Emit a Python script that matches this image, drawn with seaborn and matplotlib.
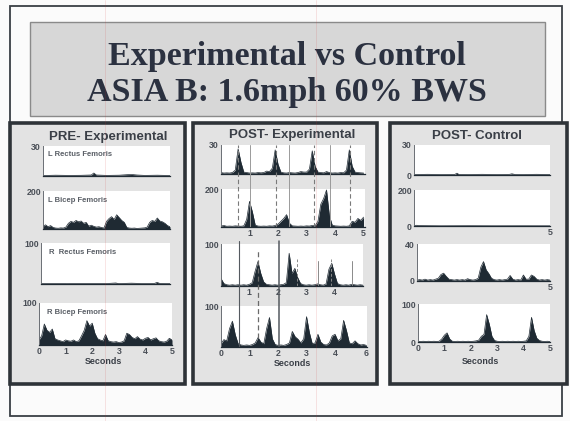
import matplotlib
matplotlib.use("Agg")
import matplotlib.pyplot as plt
from matplotlib.patches import Rectangle
import seaborn as sns

sns.set_style("white")
plt.rcParams['font.family'] = ['Liberation Sans', 'DejaVu Sans']

# ---------------- data ----------------
TITLE1 = "Experimental vs Control"
TITLE2 = "ASIA B: 1.6mph 60% BWS"
PANEL_TITLES = ["PRE- Experimental", "POST- Experimental", "POST- Control"]
MUSCLES = ["L Rectus Femoris", "L Bicep Femoris", "R  Rectus Femoris", "R Bicep Femoris"]

t_grid_5 = [round(i / 10, 1) for i in range(51)]
t_grid_51 = [round(i / 10, 1) for i in range(52)]

# PRE - Experimental
pre_lrf_t = [0, 0.5, 1.0, 1.5, 1.9, 2.0, 2.1, 2.5, 3.0, 3.3, 3.5, 3.7, 4.0, 4.5, 5.0]
pre_lrf_v = [0.5, 0.8, 0.6, 0.7, 1.0, 3.0, 1.0, 0.6, 0.8, 1.3, 1.5, 1.0, 0.6, 0.8, 0.5]
pre_lbf_v = [15, 22, 12, 18, 8, 5, 4, 6, 5, 10,
             30, 40, 35, 45, 38, 42, 30, 35,
             15, 20, 14, 10, 12, 8, 5,
             40, 55, 65, 50, 75, 60, 45, 35,
             8, 5, 4, 5, 3, 4, 5, 6, 10,
             35, 45, 40, 58, 42, 38, 30, 18, 12]
pre_rrf_t = [0, 0.5, 1, 1.5, 2, 2.5, 2.9, 3.0, 3.5, 4.0, 4.4, 4.5, 4.6, 5.0]
pre_rrf_v = [1, 1.2, 0.8, 1, 1.2, 1, 2.5, 1, 2, 1, 1.5, 4, 1.5, 1]
pre_rbf_v = [12, 22, 50, 35, 30, 38, 15, 12, 10, 8,
             12, 10, 9, 12, 8, 10, 22, 35, 58, 45,
             52, 28, 15, 12, 10, 25, 10, 8, 7, 8,
             6, 7, 10, 28, 25, 18, 15, 20, 14, 12,
             16, 18, 12, 15, 17, 10, 8, 7, 9, 16, 12]

# POST - Experimental
post_lrf_v = [1.5, 1, 1.2, 1, 1.5, 4, 26, 12, 2, 1.5,
              1, 1.2, 1, 1.5, 1.2, 1.5, 3, 2.5, 6, 25,
              10, 2, 1.2, 1, 1.5, 1.2, 1, 1.5, 2.5, 2,
              2, 5, 24, 8, 2, 1.5, 1.2, 2.5, 1.5, 1,
              1.2, 1, 1.5, 1.2, 4, 25, 8, 2, 1.5, 1.2, 1]
post_lbf_v = [5, 8, 4, 5, 4, 6, 5, 4, 6, 40,
              135, 80, 10, 5, 4, 5, 4, 6, 5, 8,
              15, 30, 45, 65, 20, 6, 5, 4, 5, 4,
              6, 5, 8, 6, 30, 120, 150, 195, 60, 10,
              6, 5, 4, 5, 4, 6, 30, 25, 45, 35, 52]
post_rrf_v = [18, 6, 3, 2, 3, 2, 3, 2, 3, 2,
              4, 8, 35, 58, 30, 10, 4, 3, 2, 3,
              2, 3, 4, 8, 78, 30, 42, 20, 6, 3,
              2, 3, 2, 3, 5, 3, 2, 5, 40, 54,
              28, 6, 3, 2, 3, 2, 4, 3, 2, 3, 2]
post_rbf_v = [8, 18, 15, 45, 63, 30, 8, 5, 4, 5,
              4, 6, 10, 23, 12, 8, 45, 72, 20, 6,
              4, 5, 4, 6, 10, 38, 25, 19, 10, 20,
              74, 35, 8, 10, 31, 12, 6, 5, 10, 27,
              31, 15, 20, 65, 40, 10, 8, 15, 8, 5, 6, 4]
# gait event markers (seconds)
post_top_dashed = [0.6, 1.93, 3.26, 4.53]
post_top_solid = [1.02, 2.39, 3.82]
post_bot_solid = [0.64, 2.04]
post_bot_dashed = [1.29]
post_mid_solid = [3.42, 4.6]
post_mid_dashed = [2.68, 3.88]

# POST - Control
ctl_lrf_t = [0, 0.5, 1.0, 1.5, 1.58, 1.65, 2.0, 2.5, 3.0, 3.5, 3.6, 3.7, 4.0, 4.5, 5.0]
ctl_lrf_v = [0.5, 0.7, 0.5, 0.6, 1.8, 0.6, 0.5, 0.7, 0.5, 0.6, 1.2, 0.6, 0.5, 0.7, 0.5]
ctl_lbf_t = [0, 0.1, 0.2, 1, 2, 3, 4, 5]
ctl_lbf_v = [3, 4, 2, 1, 1.5, 1, 1.2, 1]
ctl_rrf_v = [1, 1.5, 1, 2, 1, 1.5, 1, 2, 3, 7,
             8.5, 5, 2, 1.5, 1, 1.5, 1, 1.5, 1, 2.5,
             1.5, 1, 1.5, 3, 15, 21, 12, 8, 3, 1.5,
             1, 1.5, 1, 1.5, 2, 6, 2, 1, 1.5, 1,
             6.5, 2, 2, 6.5, 5, 2, 1, 1.5, 1, 1.5, 1]
ctl_rbf_v = [2, 1.5, 2, 1.5, 2, 1.5, 2, 1.5, 2, 8,
             18, 24, 8, 2, 1.5, 2, 1.5, 2, 1.5, 2,
             1.5, 2, 3, 5, 15, 20, 72, 47, 15, 4,
             2, 1.5, 2, 1.5, 2, 1.5, 2, 1.5, 2, 1.5,
             2, 3, 15, 65, 30, 10, 4, 2, 1.5, 2, 1.5]

# ---------------- figure ----------------
W, H = 570, 421
fig = plt.figure(figsize=(W / 100, H / 100), dpi=100)
fig.patch.set_facecolor('#fbfbfb')

DARK = '#1f2a33'
TXT = '#3a3f47'


def prect(x0, y0, x1, y1, **kw):
    r = Rectangle((x0 / W, 1 - y1 / H), (x1 - x0) / W, (y1 - y0) / H,
                  transform=fig.transFigure, figure=fig, zorder=-10, **kw)
    fig.patches.append(r)


def ftext(x, y, s, **kw):
    fig.text(x / W, 1 - y / H, s, **kw)


def add_ax(x0, y0, x1, y1):
    ax = fig.add_axes([x0 / W, 1 - y1 / H, (x1 - x0) / W, (y1 - y0) / H])
    ax.set_zorder(1)
    ax.set_facecolor('white')
    for s in ['top', 'right']:
        ax.spines[s].set_visible(False)
    ax.spines['left'].set_color('#6a6e74')
    ax.spines['left'].set_linewidth(0.7)
    ax.spines['bottom'].set_color(DARK)
    ax.spines['bottom'].set_linewidth(0.9)
    ax.tick_params(length=0, pad=1.5, labelsize=6.3, labelcolor='#4a4f57')
    return ax


def trace(ax, t, v, ymax, xmax, ylabels, xticks=(), xlabels=()):
    sns.lineplot(x=t, y=v, ax=ax, color=DARK, linewidth=0.5, estimator=None)
    ax.fill_between(t, 0, v, color=DARK, linewidth=0)
    ax.set_xlim(0, xmax)
    ax.set_ylim(0, ymax)
    ax.set_yticks([0, ymax])
    ax.set_yticklabels(ylabels, fontsize=6.3, fontweight='bold', color='#4a4f57')
    ax.set_xticks(list(xticks))
    ax.set_xticklabels(list(xlabels), fontsize=6.3, fontweight='bold', color='#4a4f57')
    ax.set_xlabel('')
    ax.set_ylabel('')


# slide frame & title box
prect(10, 6, 562, 416, facecolor='none', edgecolor='#3a3f45', linewidth=1.3)
prect(30, 22, 545, 116, facecolor='#d7d7d7', edgecolor='#8a8a8a', linewidth=1.0)
ftext(287, 57, TITLE1, family=['Liberation Serif'], fontweight='bold', fontsize=24.5,
      color='#2b3140', ha='center', va='center')
ftext(287, 93, TITLE2, family=['Liberation Serif'], fontweight='bold', fontsize=24.5,
      color='#2b3140', ha='center', va='center')

# panels
for (x0, x1) in [(10, 185), (193, 377), (390, 567)]:
    prect(x0, 123, x1, 384, facecolor='#e3e3e3', edgecolor='#2e3338', linewidth=2.6)

ftext(108, 137, PANEL_TITLES[0], fontweight='bold', fontsize=9.5, color=TXT, ha='center', va='center')
ftext(292, 135, PANEL_TITLES[1], fontweight='bold', fontsize=9.5, color=TXT, ha='center', va='center')
ftext(477, 136, PANEL_TITLES[2], fontweight='bold', fontsize=9.5, color=TXT, ha='center', va='center')

# ---- PRE - Experimental ----
L1 = add_ax(43, 146, 170, 176)
trace(L1, pre_lrf_t, pre_lrf_v, 30, 5, ['', '30'])
L2 = add_ax(43, 191, 170, 229)
trace(L2, t_grid_5, pre_lbf_v, 200, 5, ['', '200'])
L3 = add_ax(41, 243, 170, 284)
trace(L3, pre_rrf_t, pre_rrf_v, 100, 5, ['', '100'])
L4 = add_ax(39, 303, 172, 345)
trace(L4, t_grid_5, pre_rbf_v, 100, 5, ['', '100'], range(6), ['0', '1', '2', '3', '4', '5'])
for (x, y), s in zip([(48, 154), (48, 200), (49, 253), (47, 313)], MUSCLES):
    ftext(x, y, s, fontweight='bold', fontsize=5.5, color='#5a5f66', ha='left', va='center',
          zorder=5)
ftext(103, 361, "Seconds", fontweight='bold', fontsize=6.4, color=TXT, ha='center', va='center')

# ---- POST - Experimental ----
M1 = add_ax(221, 145, 365, 174)
trace(M1, t_grid_5, post_lrf_v, 30, 5.05, ['', '30'])
M2 = add_ax(221, 189, 365, 227)
trace(M2, t_grid_5, post_lbf_v, 200, 5.05, ['', '200'], [1, 2, 3, 4, 5], ['1', '2', '3', '4', '5'])
M3 = add_ax(221, 244, 363, 286)
trace(M3, t_grid_5, post_rrf_v, 100, 5.0, ['', '100'], [1, 2, 3, 4], ['1', '2', '3', '4'])
M4 = add_ax(221, 306, 367, 347)
trace(M4, t_grid_51, post_rbf_v, 100, 5.12, ['', '100'], [0, 1, 2, 3, 4, 5.1],
      ['0', '1', '2', '3', '4', '6'])
M2.set_zorder(2)
M4.set_zorder(2)
ftext(292, 363, "Seconds", fontweight='bold', fontsize=6.4, color=TXT, ha='center', va='center')

top_span = (227 - 145) / (227 - 189)
for x in post_top_dashed:
    M2.axvline(x, ymin=0, ymax=top_span, clip_on=False, color='#7a7a7a', lw=0.8, ls=(0, (4, 2.5)))
for x in post_top_solid:
    M2.axvline(x, ymin=0, ymax=top_span, clip_on=False, color='#9a9a9a', lw=0.7)
bot_span = (347 - 241) / (347 - 306)
for x in post_bot_solid:
    M4.axvline(x, ymin=0, ymax=bot_span, clip_on=False, color='#555a60',
               lw=1.1 if x > 1 else 0.8)
for x in post_bot_dashed:
    M4.axvline(x, ymin=0.22, ymax=(347 - 251) / 41, clip_on=False, color='#6a6a6a', lw=0.9,
               ls=(0, (4, 2.5)))
for x in post_mid_solid:
    M3.axvline(x, ymin=0, ymax=0.6, color='#8a8a8a', lw=0.7)
for x in post_mid_dashed:
    M3.axvline(x, ymin=0, ymax=0.65, color='#8a8a8a', lw=0.7, ls=(0, (3, 2)))

# ---- POST - Control ----
R1 = add_ax(414, 145, 550, 175)
trace(R1, ctl_lrf_t, ctl_lrf_v, 30, 5, ['0', '30'])
R2 = add_ax(414, 190, 550, 226)
trace(R2, ctl_lbf_t, ctl_lbf_v, 200, 5, ['0', '200'], [5], ['5'])
R3 = add_ax(417, 244, 550, 281)
trace(R3, t_grid_5, ctl_rrf_v, 40, 5, ['0', '40'], [5], ['5'])
R4 = add_ax(418, 304, 550, 342)
trace(R4, t_grid_5, ctl_rbf_v, 100, 5, ['0', '100'], range(6), ['0', '1', '2', '3', '4', '5'])
ftext(480, 362, "Seconds", fontweight='bold', fontsize=6.4, color=TXT, ha='center', va='center')

# faint red scan streaks
for xs in (105, 316):
    fig.lines.append(plt.Line2D([xs / W, xs / W], [0, 1], transform=fig.transFigure,
                                color='#d03030', lw=0.5, alpha=0.18, zorder=10))

fig.savefig("out.png", dpi=100, facecolor=fig.get_facecolor())
